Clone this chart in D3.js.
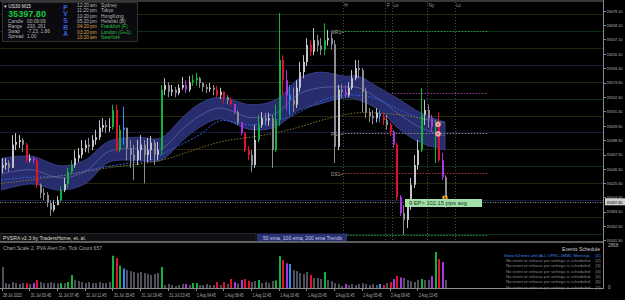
<!DOCTYPE html>
<html>
<head>
<meta charset="utf-8">
<script src="https://cdnjs.cloudflare.com/ajax/libs/d3/7.8.5/d3.min.js"></script>
<style>
  html, body { margin: 0; padding: 0; background: #000; }
  svg { display: block; font-family: "Liberation Sans", Arial, sans-serif; }
</style>
</head>
<body>
<script>
// ---- chart data (US30 M15, 2 x M15 per drawn bar) ----
const firstOpen = 35448;
const closes = [
  35452,35455,35448,35482,35486,35489,35482,35459,35462,35459,
  35423,35411,35408,35396,35386,35393,35400,35415,35424,35442,
  35452,35462,35467,35477,35482,35479,35489,35493,35507,35511,
  35508,35508,35533,35474,35504,35507,35477,35467,35459,35474,
  35482,35467,35474,35485,35467,35474,35563,35570,35560,35563,
  35558,35566,35570,35563,35574,35577,35580,35573,35567,35564,
  35566,35563,35555,35560,35552,35548,35542,35530,35515,35499,
  35474,35467,35452,35489,35511,35521,35518,35521,35474,35518,
  35607,35577,35555,35548,35541,35566,35589,35604,35629,35619,
  35636,35628,35622,35636,35639,35630,35479,35563,35560,35555,
  35566,35580,35595,35592,35560,35530,35524,35521,35529,35524,
  35518,35511,35501,35482,35405,35381,35371,35393,35423,35452,
  35474,35526,35533,35521,35508,35512,35459,35434,35397.8
];
const highs = [
  35462,35462,35459,35496,35499,35496,35492,35485,35468,35465,
  35462,35425,35418,35412,35400,35400,35406,35421,35433,35448,
  35459,35474,35477,35489,35489,35492,35496,35504,35518,35521,
  35518,35521,35541,35541,35511,35538,35507,35489,35482,35489,
  35496,35489,35492,35495,35489,35486,35570,35580,35574,35570,
  35567,35571,35582,35577,35583,35585,35588,35582,35574,35571,
  35573,35570,35569,35566,35560,35555,35552,35542,35533,35515,
  35501,35480,35474,35511,35526,35530,35529,35529,35526,35541,
  35676,35614,35592,35570,35566,35577,35604,35614,35639,35636,
  35654,35644,35639,35661,35651,35647,35636,35570,35571,35570,
  35574,35592,35607,35607,35595,35566,35536,35533,35536,35533,
  35530,35526,35515,35504,35485,35408,35393,35400,35433,35467,
  35489,35566,35548,35541,35526,35518,35529,35470,35437
];
const lows = [
  35440,35445,35442,35448,35474,35477,35471,35455,35456,35454,
  35418,35403,35400,35390,35377,35383,35393,35398,35412,35418,
  35439,35448,35456,35462,35471,35470,35474,35482,35489,35501,
  35499,35501,35504,35470,35471,35482,35459,35448,35430,35452,
  35459,35425,35456,35459,35452,35459,35467,35555,35552,35554,
  35552,35555,35563,35558,35560,35569,35569,35566,35560,35558,
  35560,35555,35552,35549,35543,35542,35539,35527,35511,35496,
  35471,35459,35442,35448,35486,35507,35510,35510,35448,35471,
  35510,35555,35533,35526,35530,35536,35560,35580,35598,35613,
  35614,35619,35614,35614,35628,35622,35455,35474,35551,35551,
  35552,35563,35577,35580,35530,35521,35515,35512,35515,35515,
  35511,35504,35495,35477,35400,35377,35349,35359,35386,35418,
  35445,35471,35511,35507,35501,35455,35456,35430,35389
];
const volumes = [
  1400,330,270,400,330,270,330,330,270,330,
  530,400,330,330,400,330,300,330,330,400,
  870,530,470,400,330,400,330,330,400,330,
  330,400,2150,2000,1500,1300,1200,1130,1070,1000,
  1070,1000,940,870,940,1000,1400,200,270,200,
  130,200,270,270,200,330,330,200,200,270,
  200,200,400,200,400,270,600,400,300,530,
  600,470,400,470,530,330,400,330,470,500,
  2130,1870,1650,1600,1200,1130,1000,940,1070,870,
  670,670,600,1070,530,470,330,270,130,270,
  200,270,200,270,330,270,200,270,200,270,
  200,330,400,600,800,700,670,530,470,400,
  530,600,530,530,800,2400,1930,1730,530
];
// PVSRA bar classes
const greenBars = [17,19,20,32,34,46,55,56,74,79,80,93,121,125];
const redBars = [7,10,33,62,64,66,70,71,81,89,110,112,114,126];
const blueBars = [35,83,109];
const magentaBars = [9,53,67,69,82,99,113,115,124,127];

// ema ribbon (bar index, price)
const bandBars = [0,8.6,17,24,31,39,46,52,57,63,72,79,86,92,99,103,109,115,121,128];
const bandHigh = [35462,35465,35451,35459,35487,35493,35492,35521,35542,35552,35541,35548,35580,35589,35583,35583,35566,35548,35529,35515];
const bandLow  = [35415,35424,35415,35424,35456,35459,35459,35487,35507,35520,35504,35508,35533,35542,35551,35548,35533,35504,35485,35474];
const bandMid  = [35439,35445,35433,35442,35472,35476,35476,35504,35524,35536,35522,35528,35557,35566,35567,35566,35549,35526,35507,35495];
const ema100Bars = [0,8.6,17,28.4,37,43,48.6,57,63,72,77.4,82,86,94.6,103,109,115,121,128];
const ema100 = [35430,35434,35436,35448,35455,35459,35474,35496,35517,35511,35518,35521,35530,35551,35555,35548,35533,35521,35515];
const ema200Bars = [0,17,31,46,63,74.5,83,94.6,103,115,121,128];
const ema200 = [35425,35436,35448,35459,35486,35495,35504,35521,35529,35526,35521,35514];

// horizontal levels and price axis
const levels = [35350,35375,35400,35425,35450,35475,35500,35525,35550,35575,35600,35625,35650,35675];
const priceTicks = [35679.1,35658.1,35637.1,35616.1,35594.5,35573.5,35552.5,35531.5,35509.5,35488.5,35467.5,35446.5,35425.5,35404.5,35383.5,35362.5,35341.5];
const lastPrice = 35397.8;

// pivots
const pivotNames = ['MR1~', '', 'PS1~', 'DS1~', ''];
const pivotPrices = [35650, 35558, 35499, 35440, 35349];
const pivotFrom = [98.2, 112.6, 98.2, 98.2, 94.6];
const pivotTo = 140.5;
const pivotColors = ['#2f8f40', '#a03aa0', '#8a8a8a', '#a83434', '#2f8f40'];

// sessions
const sessionNames = ['H', 'F', 'Lo', 'Ny', 'Lc'];
const sessionBars = [98.5, 110.8, 112.6, 122.8, 130.8];

// time axis
const timeLabels = ['28 Jul 2023','31 Jul 03:45','31 Jul 07:45','31 Jul 11:45','31 Jul 15:45','31 Jul 19:45',
  '31 Jul 23:45','1 Aug 04:45','1 Aug 08:45','1 Aug 12:45','1 Aug 16:45','1 Aug 20:45',
  '2 Aug 01:45','2 Aug 05:45','2 Aug 09:45','2 Aug 13:45'];
const timeBars = [0,8,16,24,32,40,48,56,64,72,80,88,96,104,112,120];

// info panel
const sessionTimes = ['12:20','11:20','10:20','05:20','04:20','03:20','10:20'];
const sessionAmPm = ['am','pm','pm','pm','pm','pm','am'];
const cities = ['Sydney','Tokyo','HongKong','Helsinki (B)','Frankfurt (F)','London (G+1)','NewYork'];
const infoKeys = ['Candle','Range','Swap','Spread'];
const infoVals = ['00:09:09','293, 261','-7.23, 1.86','1.00'];

// events
const eventLines = ['Show 60 mins until ALL OPEC-JMMC Meetings',
  'No event or release per settings is scheduled','No event or release per settings is scheduled',
  'No event or release per settings is scheduled','No event or release per settings is scheduled',
  'No event or release per settings is scheduled','No event or release per settings is scheduled'];

// markers
const ringBars = [126, 126];
const ringPrices = [35512, 35498];

const W = 625, H = 300, axisX = 603;
const colors = { g: '#13b23a', r: '#e3122c', b: '#2a8cff', m: '#a837e0' };

const x = d3.scaleLinear().domain([0, 128]).range([1.5, 445]);
const y = d3.scaleLinear().domain([35341.5, 35679.1]).range([240, 11]);
const yv = d3.scaleLinear().domain([0, 2868]).range([288, 245]);

function barClass(i) {
  if (greenBars.includes(i)) return 'g';
  if (redBars.includes(i)) return 'r';
  if (blueBars.includes(i)) return 'b';
  if (magentaBars.includes(i)) return 'm';
  return 'n';
}
function barColor(i) {
  let c = barClass(i);
  if (c !== 'n') return colors[c];
  let o = i === 0 ? firstOpen : closes[i - 1];
  return closes[i] >= o ? '#c4c4cc' : '#8c8c96';
}

const svg = d3.select('body').append('svg').attr('width', W).attr('height', H);
svg.append('rect').attr('width', W).attr('height', H).attr('fill', '#000');

// small text helper, optional fixed width (MT4 fonts are very narrow)
function txt(g, tx, ty, s, fill, size, anchor, weight, len) {
  let t = g.append('text').attr('x', tx).attr('y', ty).text(s)
    .attr('fill', fill).style('font-size', size + 'px')
    .attr('text-anchor', anchor || 'start').attr('font-weight', weight || 'normal');
  if (len) t.attr('textLength', len).attr('lengthAdjust', 'spacingAndGlyphs');
  return t;
}

// ---- main price window ----
svg.append('clipPath').attr('id', 'mainClip')
  .append('rect').attr('x', 0).attr('y', 2).attr('width', axisX).attr('height', 239);
const main = svg.append('g').attr('clip-path', 'url(#mainClip)');

// level lines
main.selectAll('.lvl').data(levels).enter().append('line')
  .attr('x1', 0).attr('x2', axisX)
  .attr('y1', d => Math.round(y(d)) + 0.5).attr('y2', d => Math.round(y(d)) + 0.5)
  .attr('stroke', d => d % 100 === 0 ? '#121a40' : (d % 50 === 0 ? '#0f3018' : '#28250f'));

// session lines
main.selectAll('.ses').data(sessionBars).enter().append('line')
  .attr('x1', d => Math.round(x(d)) + 0.5).attr('x2', d => Math.round(x(d)) + 0.5)
  .attr('y1', 2).attr('y2', 241)
  .attr('stroke', '#4c4c4c').attr('stroke-dasharray', '1,2');
sessionNames.forEach((s, i) => txt(main, x(sessionBars[i]) + 1.5, 7, s, '#9a9a9a', 4.8));

// ema ribbon
const area = d3.area().curve(d3.curveCatmullRom)
  .x((d, i) => x(bandBars[i])).y0((d, i) => y(bandLow[i])).y1((d, i) => y(bandHigh[i]));
main.append('path').datum(bandBars).attr('d', area)
  .attr('fill', '#262c6c').attr('stroke', '#3c4694').attr('stroke-width', 0.8);
const midLine = d3.line().curve(d3.curveCatmullRom).x((d, i) => x(bandBars[i])).y((d, i) => y(bandMid[i]));
main.append('path').datum(bandBars).attr('d', midLine)
  .attr('fill', 'none').attr('stroke', '#6c78c0').attr('stroke-width', 0.6);
const l100 = d3.line().curve(d3.curveCatmullRom).x((d, i) => x(ema100Bars[i])).y((d, i) => y(ema100[i]));
main.append('path').datum(ema100Bars).attr('d', l100)
  .attr('fill', 'none').attr('stroke', '#3563e8').attr('stroke-width', 1).attr('stroke-dasharray', '2,1.5');
const l200 = d3.line().curve(d3.curveCatmullRom).x((d, i) => x(ema200Bars[i])).y((d, i) => y(ema200[i]));
main.append('path').datum(ema200Bars).attr('d', l200)
  .attr('fill', 'none').attr('stroke', '#857628').attr('stroke-width', 1).attr('stroke-dasharray', '1.5,1.5');

// pivots
pivotPrices.forEach((p, i) => {
  let py = Math.round(y(p)) + 0.5;
  main.append('line').attr('x1', x(pivotFrom[i])).attr('x2', x(pivotTo))
    .attr('y1', py).attr('y2', py)
    .attr('stroke', pivotColors[i]).attr('stroke-dasharray', '1.5,1.5');
  if (pivotNames[i]) txt(main, 331, py + 2, pivotNames[i], '#a0a0a0', 4.8);
});

// last price line
main.append('line').attr('x1', 0).attr('x2', axisX)
  .attr('y1', Math.round(y(lastPrice)) + 0.5).attr('y2', Math.round(y(lastPrice)) + 0.5)
  .attr('stroke', '#8a8a8a').attr('stroke-dasharray', '1,1.5');

// candles
const bars = d3.range(closes.length);
main.selectAll('.wick').data(bars).enter().append('line')
  .attr('x1', i => Math.round(x(i)) + 0.5).attr('x2', i => Math.round(x(i)) + 0.5)
  .attr('y1', i => y(highs[i])).attr('y2', i => y(lows[i]))
  .attr('stroke', barColor).attr('stroke-width', 1);
main.selectAll('.body').data(bars).enter().append('rect')
  .attr('x', i => Math.round(x(i)))
  .attr('width', 2)
  .attr('y', i => y(Math.max(closes[i], i === 0 ? firstOpen : closes[i - 1])))
  .attr('height', i => Math.max(1, Math.abs(y(closes[i]) - y(i === 0 ? firstOpen : closes[i - 1]))))
  .attr('fill', barColor);

// alert rings and last bar marker
ringBars.forEach((b, i) => {
  main.append('circle').attr('cx', x(b)).attr('cy', y(ringPrices[i])).attr('r', 2.6)
    .attr('fill', '#f3c6c6').attr('stroke', '#e07474').attr('stroke-width', 0.8);
  main.append('circle').attr('cx', x(b)).attr('cy', y(ringPrices[i])).attr('r', 0.9).attr('fill', '#b02828');
});
main.append('rect').attr('x', x(128) - 2.5).attr('y', y(35403) - 2.5).attr('width', 5).attr('height', 4)
  .attr('fill', '#e8c020');
main.append('rect').attr('x', x(128) - 1).attr('y', y(35403) - 1.5).attr('width', 2).attr('height', 2)
  .attr('fill', '#d02020');

// EP label
main.append('rect').attr('x', 405).attr('y', 199).attr('width', 77).attr('height', 8).attr('fill', '#a3dfa9');
txt(main, 409, 205, '9 EP> 102.15 pips avg', '#203a20', 5, 'start', 'normal', 58);

// bottom captions
svg.append('rect').attr('x', 0).attr('y', 233.5).attr('width', 256).attr('height', 8)
  .attr('fill', '#101014').attr('stroke', '#3c3c3c').attr('stroke-width', 0.6);
txt(svg, 3, 240, 'PVSRA v2.3 by TradersHome, et. al.', '#dcdcc4', 5, 'start', 'normal', 83);
svg.append('rect').attr('x', 257).attr('y', 233.5).attr('width', 90).attr('height', 8).attr('fill', '#2a3170');
txt(svg, 263, 240, '50 ema, 100 ema, 200 ema Trends', '#c6ccf2', 5, 'start', 'normal', 79);

// top border
svg.append('line').attr('x1', 0).attr('x2', axisX).attr('y1', 1).attr('y2', 1).attr('stroke', '#6e6e6e');

// ---- info panel ----
const info = svg.append('g');
info.append('rect').attr('x', 2.5).attr('y', 2.5).attr('width', 135).attr('height', 39)
  .attr('fill', '#0b0b0f').attr('stroke', '#3e3e3e').attr('stroke-width', 0.8);
txt(info, 4, 7.5, '\u25BE US30  M15', '#e0e0e0', 4.8);
txt(info, 8, 16.5, '35397.80', '#1cc43e', 8.5, 'start', 'bold', 38);
infoKeys.forEach((k, i) => {
  txt(info, 8, 22.5 + i * 5.2, k, '#b8b8b8', 4.8);
  txt(info, 27, 22.5 + i * 5.2, infoVals[i], '#b8b8b8', 4.8);
});
['P', 'V', 'S', 'R', 'A'].forEach((c, i) => txt(info, 65.5, 9.5 + i * 6.7, c, '#3562e6', 6.5, 'middle', 'bold'));
sessionTimes.forEach((t, i) => {
  let ty = 7 + i * 5.3;
  let late = i >= 4;
  txt(info, 77, ty, t, late ? '#d9a24a' : '#b8b8b8', 4.8);
  txt(info, 90, ty, sessionAmPm[i], late ? '#d9a24a' : '#b8b8b8', 4.8);
  txt(info, 101, ty, cities[i], late ? '#2fc24a' : '#b8b8b8', 4.8);
});

// ---- price axis ----
svg.append('line').attr('x1', axisX + 0.5).attr('x2', axisX + 0.5).attr('y1', 0).attr('y2', 289).attr('stroke', '#8a8a8a');
svg.selectAll('.ptick').data(priceTicks).enter().append('line')
  .attr('x1', axisX).attr('x2', axisX + 3)
  .attr('y1', d => Math.round(y(d)) + 0.5).attr('y2', d => Math.round(y(d)) + 0.5)
  .attr('stroke', '#8a8a8a');
svg.selectAll('.plab').data(priceTicks).enter().append('text')
  .attr('x', 606.5).attr('y', d => y(d) + 1.8)
  .attr('fill', '#b4b4b4').style('font-size', '4.4px')
  .attr('textLength', 16).attr('lengthAdjust', 'spacingAndGlyphs')
  .text(d => d.toFixed(2));
svg.append('rect').attr('x', 605).attr('y', y(lastPrice) - 3.5).attr('width', 20).attr('height', 7).attr('fill', '#cfcfcf');
txt(svg, 606.5, y(lastPrice) + 1.8, lastPrice.toFixed(2), '#000', 4.4, 'start', 'normal', 16);

// panel separator
svg.append('line').attr('x1', 0).attr('x2', axisX).attr('y1', 242).attr('y2', 242)
  .attr('stroke', '#7a7a7a').attr('stroke-width', 1.6);

// ---- volume window ----
txt(svg, 3, 250, 'Chart Scale 2,  PVA Alert On,  Tick Count 657', '#a8a8a8', 4.8, 'start', 'normal', 99);
svg.selectAll('.vol').data(bars).enter().append('rect')
  .attr('x', i => Math.round(x(i)))
  .attr('width', 2)
  .attr('y', i => yv(volumes[i]))
  .attr('height', i => 288 - yv(volumes[i]))
  .attr('fill', i => barClass(i) === 'n' ? '#50505c' : colors[barClass(i)]);
txt(svg, 608, 247, '2868', '#b4b4b4', 4.6);
txt(svg, 608, 289, '0', '#b4b4b4', 4.6);

// events schedule
txt(svg, 600, 251, 'Events Schedule', '#cfcfcf', 5, 'end', 'normal', 38);
eventLines.forEach((s, i) => {
  let ty = 256.5 + i * 5.35;
  txt(svg, 590, ty, s, i === 0 ? '#3a8ae6' : '#8e8e8e', 4.4, 'end', 'normal', i === 0 ? 86 : 84);
  txt(svg, 600.5, ty, '[' + (i + 1) + ']', i === 0 ? '#3a8ae6' : '#8e8e8e', 4.4, 'end', 'normal', 5);
});

// ---- time axis ----
svg.append('line').attr('x1', 0).attr('x2', axisX).attr('y1', 288.5).attr('y2', 288.5).attr('stroke', '#8a8a8a');
svg.selectAll('.ttick').data(timeBars).enter().append('line')
  .attr('x1', d => Math.round(x(d)) + 0.5).attr('x2', d => Math.round(x(d)) + 0.5)
  .attr('y1', 288).attr('y2', 291).attr('stroke', '#8a8a8a');
svg.selectAll('.tlab').data(timeBars).enter().append('text')
  .attr('x', d => x(d) + 1.5).attr('y', 297)
  .attr('fill', '#b0b0b0').style('font-size', '4.8px')
  .attr('textLength', (d, i) => timeLabels[i].length * 1.7)
  .attr('lengthAdjust', 'spacingAndGlyphs')
  .text((d, i) => timeLabels[i]);
</script>
</body>
</html>
